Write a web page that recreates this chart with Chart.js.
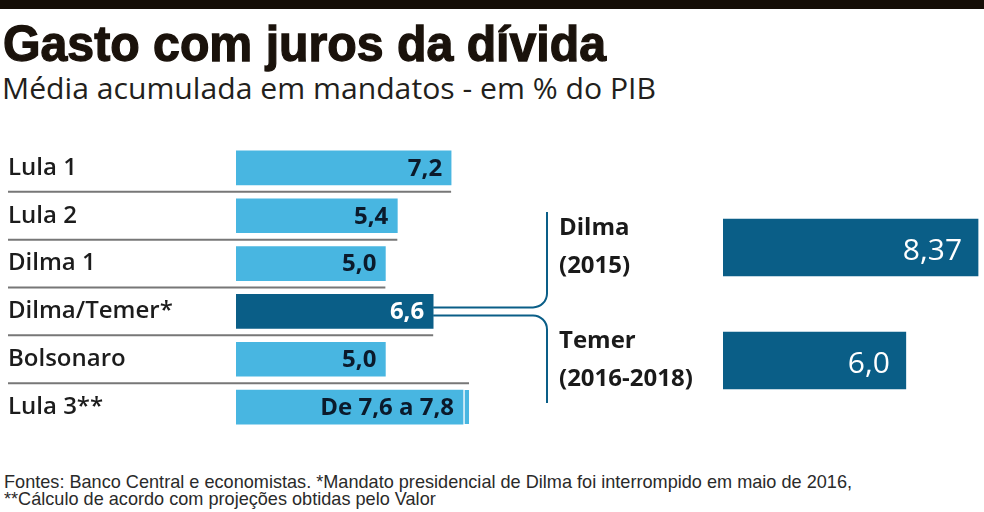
<!DOCTYPE html>
<html><head><meta charset="utf-8">
<script src="https://cdn.jsdelivr.net/npm/chart.js@4.4.0/dist/chart.umd.min.js"></script>
<style>
html,body{margin:0;padding:0;background:#fff;}
body{width:984px;height:512px;position:relative;overflow:hidden;}
#topbar{position:absolute;left:0;top:0;width:984px;height:9px;background:#150e07;}
.txt{position:absolute;white-space:nowrap;transform-origin:0 0;line-height:1;}
#title{left:3px;top:15px;font:bold 50px "Liberation Sans",Arial,sans-serif;color:#1a120b;-webkit-text-stroke:1.3px #1a120b;}
#subtitle{left:2px;top:67.5px;font:400 29px "Open Sans",sans-serif;color:#231f1c;}
#foot1,#foot2{left:4px;font:400 19px "Liberation Sans",sans-serif;color:#2a2a2a;}
#foot1{top:471px;}
#foot2{top:487.5px;}
#left{position:absolute;left:0;top:144px;}
#right{position:absolute;left:540px;top:191px;}
</style></head>
<body>
<div id="topbar"></div>
<div id="title" class="txt">Gasto com juros da dívida</div>
<div id="subtitle" class="txt">Média acumulada em mandatos - em % do PIB</div>
<canvas id="left" width="560" height="287"></canvas>
<canvas id="right" width="444" height="226"></canvas>
<div id="foot1" class="txt">Fontes: Banco Central e economistas. *Mandato presidencial de Dilma foi interrompido em maio de 2016,</div>
<div id="foot2" class="txt">**Cálculo de acordo com projeções obtidas pelo Valor</div>
<script>
// ---- data ----
const categories = ['Lula 1', 'Lula 2', 'Dilma 1', 'Dilma/Temer*', 'Bolsonaro', 'Lula 3**'];
const mainValues = [7.2, 5.4, 5.0, 6.6, 5.0, 7.6];
const rangeHigh = [null, null, null, null, null, 7.8];
const highlightIndex = 3;
const splitCategories = [['Dilma', '(2015)'], ['Temer', '(2016-2018)']];
const splitValues = [8.37, 6.0];

// ---- text fitting (emulate condensed newspaper fonts) ----
function fit(el, target) {
  const w = el.getBoundingClientRect().width;
  const s = target / w;
  el.style.transform = 'scaleX(' + s + ')';
  return s;
}
fit(document.getElementById('title'), 603);
fit(document.getElementById('subtitle'), 654);
const fs = fit(document.getElementById('foot1'), 848);
document.getElementById('foot2').style.transform = 'scaleX(' + fs + ')';

const LIGHT = '#48b6e1', DARK = '#0a5e87';
const fmt = v => v.toLocaleString('pt-BR', {minimumFractionDigits: 1, maximumFractionDigits: 2});
const FONT = '"Open Sans", "Liberation Sans", sans-serif';

const leftDecor = {
  id: 'leftDecor',
  afterDatasetsDraw(chart) {
    const ctx = chart.ctx, xs = chart.scales.x, ys = chart.scales.y;
    ctx.save();
    // separators
    ctx.strokeStyle = '#777777';
    ctx.lineWidth = 2;
    for (let k = 0; k < categories.length - 1; k++) {
      const y = (ys.getPixelForValue(k) + ys.getPixelForValue(k + 1)) / 2;
      let end = mainValues[k];
      if (k === categories.length - 2) end = Math.max(end, rangeHigh[k + 1] ?? mainValues[k + 1]);
      ctx.beginPath();
      ctx.moveTo(ys.left, y);
      ctx.lineTo(xs.getPixelForValue(end), y);
      ctx.stroke();
    }
    // value labels
    ctx.font = 'bold 24px ' + FONT;
    ctx.textAlign = 'right';
    ctx.textBaseline = 'middle';
    mainValues.forEach((v, i) => {
      const txt = rangeHigh[i] != null ? 'De ' + fmt(v) + ' a ' + fmt(rangeHigh[i]) : fmt(v);
      ctx.fillStyle = i === highlightIndex ? '#ffffff' : '#0b1a2b';
      ctx.fillText(txt, xs.getPixelForValue(v) - 9, ys.getPixelForValue(i) + 1);
    });
    // bracket
    const x0 = xs.getPixelForValue(mainValues[highlightIndex]);
    const yc = ys.getPixelForValue(highlightIndex);
    const bx = 547, r = 14, top = 212 - 144, bot = 403 - 144;
    ctx.strokeStyle = DARK;
    ctx.lineWidth = 2;
    ctx.beginPath();
    ctx.moveTo(x0, yc - 4);
    ctx.lineTo(bx - r, yc - 4);
    ctx.arcTo(bx, yc - 4, bx, yc - 4 - r, r);
    ctx.lineTo(bx, top);
    ctx.stroke();
    ctx.beginPath();
    ctx.moveTo(x0, yc + 4);
    ctx.lineTo(bx - r, yc + 4);
    ctx.arcTo(bx, yc + 4, bx, yc + 4 + r, r);
    ctx.lineTo(bx, bot);
    ctx.stroke();
    ctx.restore();
  }
};

new Chart(document.getElementById('left'), {
  type: 'bar',
  data: {
    labels: categories,
    datasets: [
      {data: mainValues, backgroundColor: mainValues.map((v, i) => i === highlightIndex ? DARK : LIGHT),
       barThickness: 34, grouped: false, borderWidth: 0},
      {data: rangeHigh.map((h, i) => h == null ? null : [mainValues[i], h]), backgroundColor: LIGHT,
       borderColor: '#ffffff', borderWidth: {left: 2, top: 0, right: 0, bottom: 0}, borderSkipped: false,
       barThickness: 34, grouped: false}
    ]
  },
  options: {
    indexAxis: 'y', responsive: false, animation: false,
    layout: {padding: {left: 8, right: 85, top: 0, bottom: 0}},
    plugins: {legend: {display: false}, tooltip: {enabled: false}},
    scales: {
      x: {min: 0, max: 8, display: false},
      y: {grid: {display: false}, border: {display: false},
          ticks: {crossAlign: 'far', color: '#1c1c1c', padding: 0,
                  font: {family: FONT, size: 24, weight: '600'}},
          afterFit(s) { s.width = 228; s.paddingTop = 0; s.paddingBottom = 0; }}
    }
  },
  plugins: [leftDecor]
});

const rightLabels = {
  id: 'rightLabels',
  afterDatasetsDraw(chart) {
    const ctx = chart.ctx, xs = chart.scales.x, ys = chart.scales.y;
    ctx.save();
    ctx.font = '500 30px ' + FONT;
    ctx.textAlign = 'right';
    ctx.textBaseline = 'middle';
    ctx.fillStyle = '#ffffff';
    splitValues.forEach((v, i) => {
      ctx.fillText(fmt(v), xs.getPixelForValue(v) - 16, ys.getPixelForValue(i) + 4);
    });
    ctx.restore();
  }
};

new Chart(document.getElementById('right'), {
  type: 'bar',
  data: {labels: splitCategories, datasets: [{data: splitValues, backgroundColor: DARK, barThickness: 57, borderWidth: 0}]},
  options: {
    indexAxis: 'y', responsive: false, animation: false,
    layout: {padding: {left: 19, right: 2, top: 0, bottom: 0}},
    plugins: {legend: {display: false}, tooltip: {enabled: false}},
    scales: {
      x: {min: 0, max: 8.5, display: false},
      y: {grid: {display: false}, border: {display: false},
          ticks: {crossAlign: 'far', color: '#1a1a1a', padding: 0,
                  font: {family: FONT, size: 24, weight: '700', lineHeight: 1.583}},
          afterFit(s) { s.width = 164; s.paddingTop = 0; s.paddingBottom = 0; }}
    }
  },
  plugins: [rightLabels]
});
</script>
</body></html>
